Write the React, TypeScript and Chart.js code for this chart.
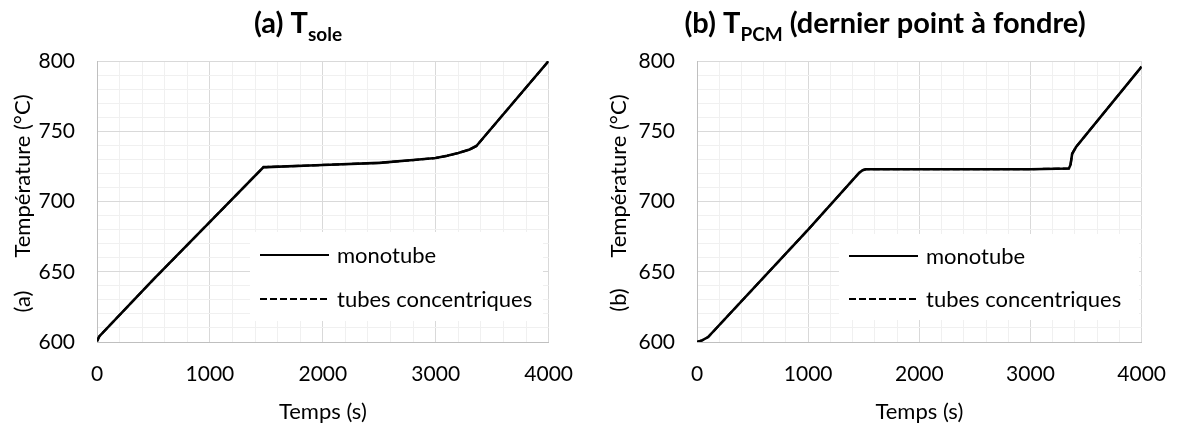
import React, { useEffect, useRef } from 'react';
import { Chart, registerables } from 'chart.js';

Chart.register(...registerables);

// ---------- DATA ----------
const timeA = [0, 20, 500, 1000, 1475, 1500, 2000, 2500, 2800, 3000, 3100, 3200, 3300, 3360, 4000];
const monoA = [600.5, 604, 644.5, 685.5, 724.5, 724.5, 726, 727.5, 729.5, 731, 732.5, 734.5, 737, 739.5, 800];
const concA = [600.5, 604, 644.5, 685.5, 724.5, 724.5, 726, 727.5, 729.5, 731, 732.5, 734.5, 737, 739.5, 800];

const timeB = [0, 50, 100, 1000, 1460, 1490, 1520, 2000, 3000, 3345, 3360, 3375, 3410, 4000];
const monoB = [600, 601.3, 603.5, 680, 720.5, 722.3, 723, 723, 723, 723.5, 726, 734, 738.8, 796];
const concB = [600, 601.3, 603.5, 680, 720.5, 722.3, 723, 723, 723, 723.5, 726, 734, 738.8, 796];

const xTickLabels = [0, 1000, 2000, 3000, 4000];
const yTickLabels = [600, 650, 700, 750, 800];
const seriesLabels = ['monotube', 'tubes concentriques'];
const xTitle = 'Temps (s)';
const yTitle = 'Température (°C)';

const FONT = 'Lato, "Open Sans", sans-serif';

const decorPlugin = {
  id: 'decor',
  beforeDatasetsDraw(chart: any, _args: any, opts: any) {
    const { ctx } = chart;
    const L = opts.legend;
    ctx.save();
    ctx.fillStyle = '#ffffff';
    ctx.fillRect(L.left, L.top, L.right - L.left, L.bottom - L.top);
    chart.data.datasets.forEach((ds: any, i: number) => {
      const y = L.rows[i];
      ctx.beginPath();
      ctx.setLineDash(ds.legendDash || []);
      ctx.lineWidth = 2;
      ctx.strokeStyle = ds.borderColor;
      ctx.moveTo(L.left + 10, y);
      ctx.lineTo(L.left + 79, y);
      ctx.stroke();
      ctx.setLineDash([]);
      ctx.fillStyle = '#000000';
      ctx.font = `22px ${FONT}`;
      ctx.textBaseline = 'middle';
      ctx.textAlign = 'left';
      ctx.fillText(ds.label, L.left + 87, y + 1);
    });
    ctx.restore();
  },
  afterDraw(chart: any, _args: any, opts: any) {
    const { ctx } = chart;
    const T = opts.title;
    ctx.save();
    ctx.fillStyle = '#000000';
    ctx.textBaseline = 'alphabetic';
    ctx.textAlign = 'left';
    const mainFont = `bold ${T.size}px ${FONT}`;
    const subFont = `bold ${Math.round(T.size * 0.66)}px ${FONT}`;
    ctx.font = mainFont;
    const w1 = ctx.measureText(T.pre).width;
    const w3 = ctx.measureText(T.post).width;
    ctx.font = subFont;
    const w2 = ctx.measureText(T.sub).width;
    const total = w1 + w2 + w3;
    let x = T.cx - total / 2;
    ctx.font = mainFont;
    ctx.fillText(T.pre, x, T.baseline);
    x += w1;
    ctx.font = subFont;
    ctx.fillText(T.sub, x, T.baseline + T.subDrop);
    x += w2;
    ctx.font = mainFont;
    ctx.fillText(T.post, x, T.baseline);

    // y axis title (split in two parts)
    const Y = opts.yTitle;
    ctx.font = `22px ${FONT}`;
    ctx.textAlign = 'center';
    ctx.textBaseline = 'middle';
    ctx.save();
    ctx.translate(Y.x, Y.textY);
    ctx.rotate(-Math.PI / 2);
    ctx.fillText(Y.text, 0, 0);
    ctx.restore();
    ctx.save();
    ctx.translate(Y.x, Y.tagY);
    ctx.rotate(-Math.PI / 2);
    ctx.fillText(Y.tag, 0, 0);
    ctx.restore();
    ctx.restore();
  },
};

function makeConfig(
  time: number[],
  mono: number[],
  conc: number[],
  cfg: { plotLeft: number; rightPad: number; title: any; yTitle: any; legend: any }
): any {
  const tickFont = { family: FONT, size: 21 };
  return {
    type: 'line',
    data: {
      datasets: [
        {
          label: seriesLabels[0],
          data: time.map((t, i) => ({ x: t, y: mono[i] })),
          borderColor: '#000000',
          borderWidth: 2.6,
          pointRadius: 0,
          tension: 0,
          fill: false,
          order: 1,
          legendDash: [],
        },
        {
          label: seriesLabels[1],
          data: time.map((t, i) => ({ x: t, y: conc[i] })),
          borderColor: '#000000',
          borderWidth: 2.2,
          borderDash: [7, 3],
          pointRadius: 0,
          tension: 0,
          fill: false,
          order: 0,
          legendDash: [7, 3],
        },
      ],
    },
    options: {
      responsive: false,
      animation: false,
      events: [],
      layout: { padding: { left: 0, right: cfg.rightPad, top: 61, bottom: 0 } },
      plugins: {
        legend: { display: false },
        tooltip: { enabled: false },
        title: { display: false },
        decor: { title: cfg.title, yTitle: cfg.yTitle, legend: cfg.legend },
      },
      scales: {
        x: {
          type: 'linear',
          min: 0,
          max: 4000,
          afterFit: (s: any) => {
            s.height = 83;
          },
          ticks: {
            stepSize: 200,
            autoSkip: false,
            maxRotation: 0,
            padding: 20,
            color: '#000000',
            font: tickFont,
            callback: (v: number) => (xTickLabels.includes(v) ? String(v) : ''),
          },
          grid: {
            drawTicks: false,
            color: (c: any) => (c.tick && xTickLabels.includes(c.tick.value) ? '#d9d9d9' : '#f0f0f0'),
            lineWidth: 1,
          },
          border: { color: '#bfbfbf', width: 1 },
          title: {
            display: true,
            text: xTitle,
            color: '#000000',
            font: { family: FONT, size: 22 },
            padding: { top: 0, bottom: 0 },
          },
        },
        y: {
          type: 'linear',
          min: 600,
          max: 800,
          afterFit: (s: any) => {
            s.width = cfg.plotLeft;
          },
          ticks: {
            stepSize: 10,
            autoSkip: false,
            padding: 22,
            color: '#000000',
            font: tickFont,
            callback: (v: number) => (yTickLabels.includes(v) ? String(v) : ''),
          },
          grid: {
            drawTicks: false,
            color: (c: any) => (c.tick && yTickLabels.includes(c.tick.value) ? '#d9d9d9' : '#f0f0f0'),
            lineWidth: 1,
          },
          border: { color: '#bfbfbf', width: 1 },
        },
      },
    },
    plugins: [decorPlugin],
  };
}

function ChartCanvas({ config }: { config: any }) {
  const ref = useRef<HTMLCanvasElement | null>(null);
  useEffect(() => {
    if (!ref.current) return;
    const chart = new Chart(ref.current, config);
    return () => chart.destroy();
  }, [config]);
  return <canvas ref={ref} width={593} height={425} style={{ display: 'block', width: 593, height: 425 }} />;
}

const configA = makeConfig(timeA, monoA, concA, {
  plotLeft: 97,
  rightPad: 34,
  title: { pre: '(a) T', sub: 'sole', post: '', cx: 298, baseline: 33, subDrop: 8, size: 29 },
  yTitle: { x: 23, text: yTitle, textY: 176, tag: '(a)', tagY: 301.5 },
  legend: { left: 250, top: 232, right: 543, bottom: 321, rows: [255, 299] },
});

const configB = makeConfig(timeB, monoB, concB, {
  plotLeft: 104,
  rightPad: 31,
  title: { pre: '(b) T', sub: 'PCM', post: ' (dernier point à fondre)', cx: 292, baseline: 33, subDrop: 8, size: 29 },
  yTitle: { x: 26, text: yTitle, textY: 176, tag: '(b)', tagY: 300 },
  legend: { left: 246, top: 234, right: 546, bottom: 320, rows: [256, 299] },
});

export default function App() {
  useEffect(() => {
    document.body.style.margin = '0';
    document.body.style.background = '#ffffff';
  }, []);
  return (
    <div style={{ display: 'flex', width: 1186, height: 425, background: '#ffffff' }}>
      <ChartCanvas config={configA} />
      <ChartCanvas config={configB} />
    </div>
  );
}
